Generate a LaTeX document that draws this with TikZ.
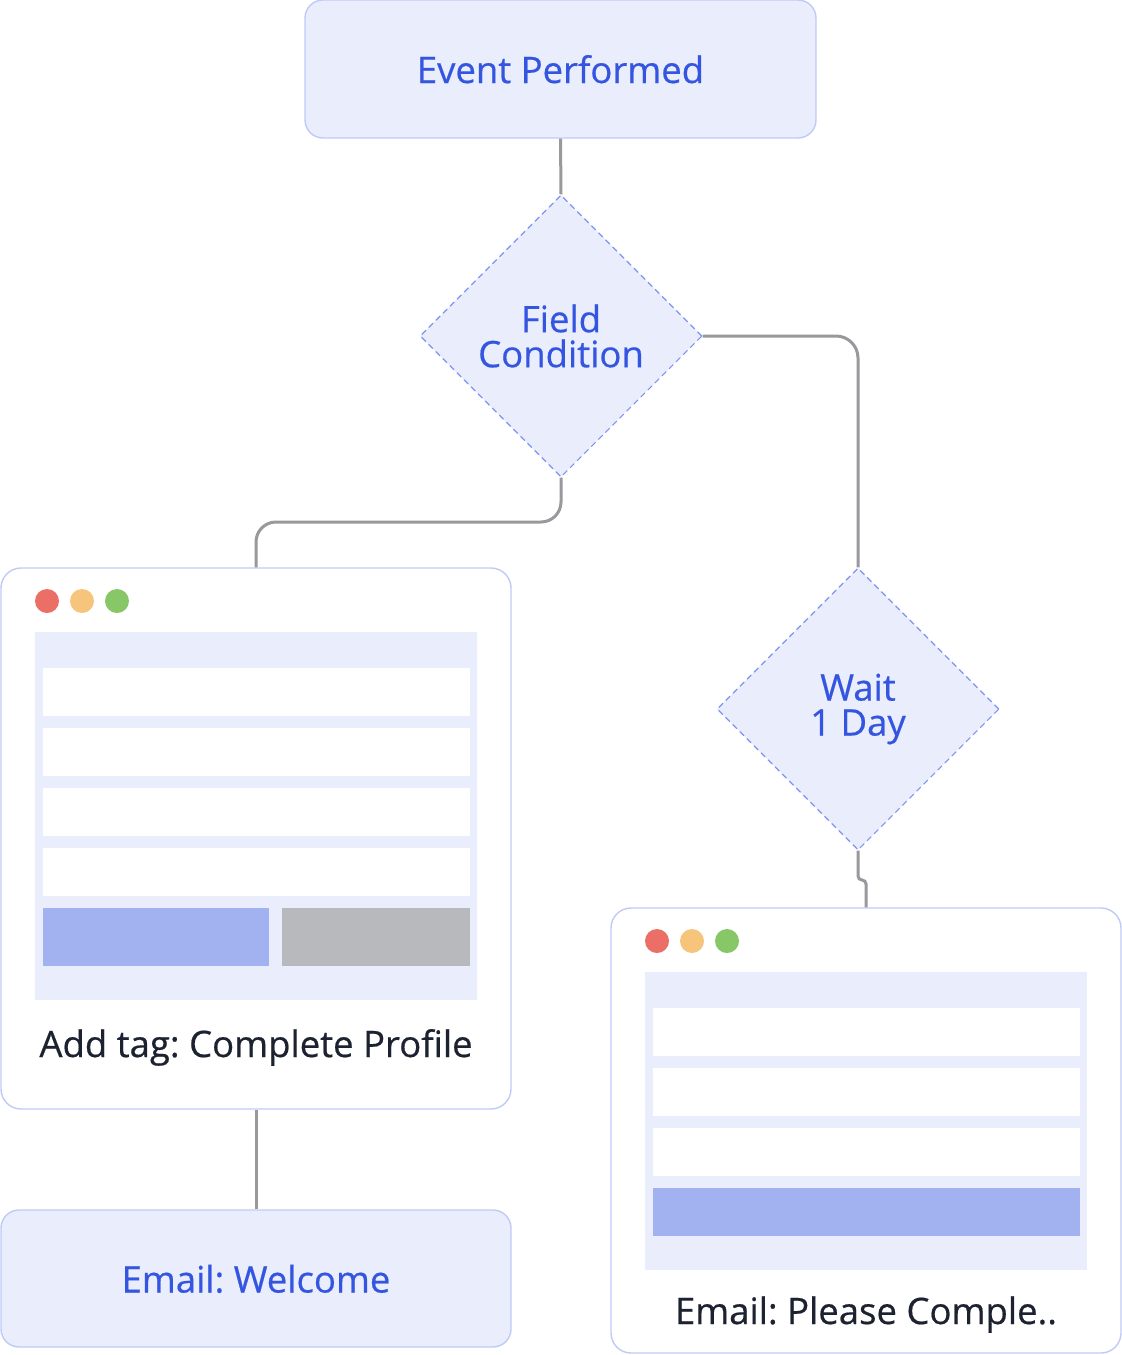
\documentclass[tikz,border=0pt]{standalone}
\usepackage{fontspec}
\setmainfont{Open Sans}
\newfontfamily\medfont{Open Sans}[FakeBold=0.5]
\usetikzlibrary{shapes.geometric}
\definecolor{boxfill}{HTML}{E9EDFC}
\definecolor{boxline}{HTML}{BFCBF6}
\definecolor{dashline}{HTML}{7C94F2}
\definecolor{bluetext}{HTML}{3455E0}
\definecolor{darktext}{HTML}{1D2230}
\definecolor{connline}{HTML}{98989D}
\definecolor{btnblue}{HTML}{A2B2F0}
\definecolor{btngray}{HTML}{B8B9BD}
\definecolor{dotred}{HTML}{EC6F67}
\definecolor{dotorange}{HTML}{F7C47B}
\definecolor{dotgreen}{HTML}{87C767}
\begin{document}
\frenchspacing
\begin{tikzpicture}[x=1pt,y=-1pt,
  txt/.style={font=\medfont\fontsize{36.5}{35}\selectfont},
  actionbox/.style={draw=boxline, line width=1.4pt, fill=boxfill, rounded corners=18pt,
    inner sep=0pt, minimum width=510pt, minimum height=137pt, text=bluetext, txt,
    text height=28pt, text depth=0pt},
  decision/.style={diamond, aspect=1, draw=dashline, line width=1.1pt, dash pattern=on 6pt off 4pt,
    fill=boxfill, inner sep=0pt, minimum width=282pt, minimum height=282pt, text=bluetext, txt, align=center},
  window/.style={draw=boxline, line width=1.4pt, fill=white, rounded corners=20pt,
    inner sep=0pt, minimum width=510pt},
  conn/.style={draw=connline, line width=3pt},
  caption/.style={anchor=base, text=darktext, txt, inner sep=0pt},
  panel/.style={fill=boxfill},
  row/.style={fill=white},
]
\useasboundingbox (0,0) rectangle (1122,1355);

% nodes
\node[actionbox, minimum width=511pt, minimum height=138pt] (ev) at (560.5,69) {Event Performed};
\node[decision] (d1) at (561,336) {Field\\Condition};
\node[decision] (d2) at (858,709) {Wait\\1 Day};
\node[window, minimum height=541pt] (w1) at (256,838.5) {};
\node[window, minimum height=445pt] (w2) at (866,1130.5) {};
\node[actionbox] (ew) at (256,1278.5) {Email: Welcome};

% connector coordinates
\coordinate (c1) at (561,522);
\coordinate (c2) at (858,880);

% connectors
\draw[conn] (ev.south) -- (d1.north);
\draw[conn, rounded corners=22pt] (d1.east) -| (d2.north);
\draw[conn, rounded corners=20pt] (d1.south) -- (c1) -| (w1.north);
\draw[conn] (w1.south) -- (ew.north);
\draw[conn, rounded corners=4pt] (d2.south) -- (c2) -| (w2.north);

% window 1 content
\fill[dotred] (47,601) circle (12);
\fill[dotorange] (82,601) circle (12);
\fill[dotgreen] (117,601) circle (12);
\fill[panel] (35,632) rectangle (477,1000);
\foreach \y in {668,728,788,848} {\fill[row] (43,\y) rectangle (470,\y+48);}
\fill[btnblue] (43,908) rectangle (269,966);
\fill[btngray] (282,908) rectangle (470,966);
\node[caption] (l1) at (256,1057) {Add tag: Complete Profile};

% window 2 content
\fill[dotred] (657,941) circle (12);
\fill[dotorange] (692,941) circle (12);
\fill[dotgreen] (727,941) circle (12);
\fill[panel] (645,972) rectangle (1087,1270);
\foreach \y in {1008,1068,1128} {\fill[row] (653,\y) rectangle (1080,\y+48);}
\fill[btnblue] (653,1188) rectangle (1080,1236);
\node[caption] (l2) at (866,1324) {Email: Please Comple..};
\end{tikzpicture}
\end{document}
